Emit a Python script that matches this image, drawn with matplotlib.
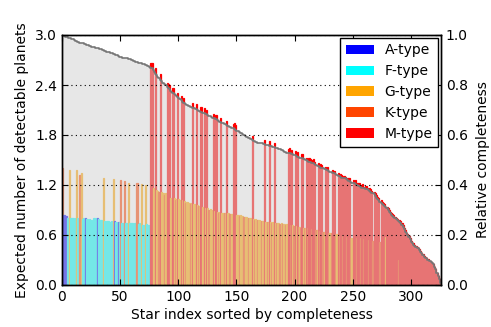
import numpy as np
import matplotlib
matplotlib.use("Agg")
import matplotlib.pyplot as plt
from matplotlib.patches import Patch

# ---- data ----
star_types = (
    "KAAAFFGFFF" "FFGFFKGFFF" "AFFFFFFFFF" "AFFFFGFFFF" "FFFFGAFFAF"
    "KFFKFFFGFF" "FFFFKFFFGF" "FGFFFF"
    "MMGGMGGKMG" "GGKGMMMGGM" "GKGMGGMGMG" "KGGGKGMGGM" "GKGMGGMGMG"
    "KGGGMGMGKG" "MGGKGMGGKG" "GMMMGGKGGG" "KGGGKGGMGK" "GGKGGKGGMG"
    "KGMGKGMGKG" "GKGKGGKGMM" "KMGKMGMKGK" "MGKGMKMMKM" "MMKGMKMMKG"
    "MMMKGKMMMK" "GMKMMKMMKM" "MMKGMMMKMM" "KMMKMMMKMM" "MKMMMMMKMM"
    "MMGMMMMMMM" "MMMKMMMMMM" "MMMMMMMMMM" "MMMMMMMMMM" "MMMMMMMMMM"
)

expected_planets = [
    1.40, 0.84, 0.84, 0.83, 0.81, 0.80, 1.38, 0.80, 0.81, 0.80,
    0.79, 0.80, 1.38, 0.80, 0.79, 1.32, 1.35, 0.79, 0.80, 0.79,
    0.80, 0.79, 0.78, 0.79, 0.78, 0.78, 0.77, 0.80, 0.79, 0.80,
    0.80, 0.79, 0.77, 0.78, 0.77, 1.28, 0.77, 0.76, 0.77, 0.77,
    0.76, 0.76, 0.77, 0.76, 1.27, 0.77, 0.76, 0.75, 0.76, 0.76,
    1.26, 0.75, 0.75, 1.25, 0.75, 0.74, 0.75, 1.23, 0.74, 0.75,
    0.74, 0.73, 0.74, 0.75, 1.22, 0.73, 0.74, 0.73, 1.21, 0.72,
    0.72, 1.20, 0.73, 0.72, 0.72, 0.71,
    2.66, 2.67, 1.17, 1.15, 2.60, 1.14, 1.13, 1.12, 2.53, 1.12,
    1.11, 1.11, 1.08, 1.10, 2.43, 2.41, 2.40, 1.05, 1.04, 2.36,
    1.04, 1.02, 1.03, 2.31, 1.03, 1.02, 2.27, 1.02, 2.25, 1.01,
    0.99, 1.00, 0.99, 0.99, 0.97, 0.98, 2.19, 0.97, 0.97, 2.17,
    0.96, 0.95, 0.95, 2.14, 0.94, 0.93, 2.12, 0.92, 2.10, 0.92,
    0.90, 0.91, 0.90, 0.89, 2.05, 0.89, 2.04, 0.88, 0.87, 0.88,
    2.01, 0.87, 0.87, 0.86, 0.87, 1.97, 0.86, 0.86, 0.85, 0.85,
    0.85, 1.93, 1.94, 1.92, 0.84, 0.84, 0.83, 0.84, 0.83, 0.83,
    0.82, 0.82, 0.82, 0.81, 0.80, 0.80, 0.80, 1.79, 0.79, 0.78,
    0.79, 0.78, 0.78, 0.78, 0.77, 0.77, 0.77, 0.77, 1.74, 0.76,
    0.76, 0.76, 1.73, 0.76, 0.75, 0.76, 1.71, 0.75, 0.75, 0.74,
    0.74, 0.73, 0.74, 0.73, 0.73, 0.73, 0.72, 0.73, 1.63, 1.64,
    0.72, 1.62, 0.72, 0.71, 1.61, 0.71, 1.60, 0.70, 0.70, 0.69,
    1.57, 0.69, 0.69, 0.68, 1.53, 0.68, 1.53, 1.51, 0.67, 1.50,
    1.51, 1.48, 0.66, 0.66, 1.46, 0.65, 1.45, 1.44, 0.64, 0.64,
    1.42, 1.41, 1.42, 0.63, 0.62, 0.62, 1.38, 1.37, 1.37, 0.61,
    0.61, 1.34, 0.60, 1.33, 1.32, 0.59, 1.31, 1.30, 0.58, 1.29,
    1.28, 1.29, 0.57, 0.57, 1.26, 1.25, 1.26, 0.56, 1.23, 1.22,
    0.56, 1.20, 1.21, 0.55, 1.18, 1.19, 1.17, 0.54, 1.16, 1.15,
    1.13, 0.53, 1.12, 1.10, 1.08, 1.06, 1.05, 0.52, 1.02, 1.00,
    0.99, 0.97, 0.58, 0.94, 0.92, 0.90, 0.88, 0.86, 0.85, 0.84,
    0.82, 0.81, 0.79, 0.30, 0.78, 0.77, 0.74, 0.72, 0.69, 0.66,
    0.63, 0.61, 0.59, 0.56, 0.53, 0.51, 0.50, 0.48, 0.47, 0.46,
    0.45, 0.43, 0.41, 0.39, 0.37, 0.35, 0.34, 0.33, 0.31, 0.31,
    0.29, 0.28, 0.27, 0.25, 0.22, 0.19, 0.15, 0.11, 0.07, 0.03,
]

completeness_curve = [
    3.00, 3.00, 2.99, 2.98, 2.98, 2.97, 2.97, 2.96, 2.95, 2.95,
    2.94, 2.93, 2.93, 2.92, 2.92, 2.91, 2.91, 2.90, 2.90, 2.89,
    2.89, 2.88, 2.88, 2.87, 2.87, 2.86, 2.86, 2.86, 2.85, 2.85,
    2.84, 2.84, 2.83, 2.83, 2.82, 2.82, 2.81, 2.81, 2.80, 2.80,
    2.80, 2.79, 2.78, 2.78, 2.77, 2.77, 2.76, 2.76, 2.75, 2.74,
    2.74, 2.74, 2.73, 2.73, 2.72, 2.72, 2.72, 2.71, 2.71, 2.70,
    2.70, 2.69, 2.69, 2.68, 2.68, 2.67, 2.67, 2.66, 2.66, 2.65,
    2.65, 2.64, 2.64, 2.63, 2.63, 2.62, 2.61, 2.60, 2.58, 2.56,
    2.53, 2.52, 2.50, 2.48, 2.46, 2.45, 2.43, 2.42, 2.41, 2.40,
    2.38, 2.36, 2.35, 2.33, 2.32, 2.31, 2.29, 2.28, 2.27, 2.26,
    2.24, 2.23, 2.22, 2.20, 2.19, 2.18, 2.17, 2.16, 2.15, 2.15,
    2.14, 2.14, 2.13, 2.12, 2.11, 2.11, 2.10, 2.09, 2.09, 2.08,
    2.07, 2.07, 2.06, 2.05, 2.05, 2.04, 2.03, 2.03, 2.02, 2.01,
    2.00, 2.00, 1.99, 1.98, 1.97, 1.96, 1.96, 1.95, 1.94, 1.93,
    1.93, 1.92, 1.91, 1.91, 1.90, 1.89, 1.88, 1.88, 1.87, 1.86,
    1.85, 1.85, 1.84, 1.83, 1.82, 1.81, 1.80, 1.79, 1.78, 1.78,
    1.77, 1.76, 1.75, 1.74, 1.73, 1.73, 1.72, 1.72, 1.71, 1.71,
    1.70, 1.70, 1.70, 1.69, 1.69, 1.68, 1.68, 1.68, 1.67, 1.67,
    1.67, 1.66, 1.66, 1.65, 1.65, 1.64, 1.63, 1.63, 1.62, 1.62,
    1.61, 1.60, 1.60, 1.59, 1.59, 1.58, 1.58, 1.57, 1.57, 1.56,
    1.56, 1.55, 1.54, 1.54, 1.53, 1.53, 1.52, 1.51, 1.51, 1.50,
    1.50, 1.49, 1.48, 1.48, 1.47, 1.46, 1.46, 1.45, 1.44, 1.43,
    1.43, 1.42, 1.41, 1.41, 1.40, 1.39, 1.39, 1.38, 1.38, 1.37,
    1.36, 1.36, 1.35, 1.34, 1.34, 1.33, 1.32, 1.31, 1.31, 1.30,
    1.29, 1.29, 1.28, 1.28, 1.27, 1.26, 1.25, 1.25, 1.24, 1.23,
    1.23, 1.22, 1.21, 1.20, 1.20, 1.19, 1.18, 1.17, 1.17, 1.16,
    1.16, 1.15, 1.15, 1.14, 1.13, 1.12, 1.11, 1.10, 1.09, 1.07,
    1.05, 1.03, 1.02, 1.00, 0.99, 0.97, 0.96, 0.95, 0.94, 0.92,
    0.90, 0.88, 0.86, 0.84, 0.83, 0.82, 0.80, 0.79, 0.78, 0.77,
    0.76, 0.75, 0.72, 0.70, 0.67, 0.64, 0.62, 0.60, 0.58, 0.55,
    0.52, 0.50, 0.48, 0.47, 0.46, 0.45, 0.44, 0.42, 0.40, 0.38,
    0.36, 0.34, 0.33, 0.32, 0.30, 0.30, 0.29, 0.28, 0.27, 0.25,
    0.22, 0.19, 0.15, 0.11, 0.07, 0.03,
]

type_codes = ["A", "F", "G", "K", "M"]
type_labels = ["A-type", "F-type", "G-type", "K-type", "M-type"]
type_colors = ["blue", "cyan", "orange", "orangered", "red"]

left_ticks = [0.0, 0.6, 1.2, 1.8, 2.4, 3.0]
right_ticks = [0.0, 0.2, 0.4, 0.6, 0.8, 1.0]
x_ticks = [0, 50, 100, 150, 200, 250, 300]

# ---- plot ----
plt.rcParams["font.family"] = ["DejaVu Sans"]
plt.rcParams["font.size"] = 10

fig = plt.figure(figsize=(4.91, 3.27), dpi=100)
ax = fig.add_axes([62 / 491, 42 / 327, 379 / 491, 250 / 327])

n = len(completeness_curve)
idx = np.arange(n)
cmap = dict(zip(type_codes, type_colors))
bar_colors = [cmap[t] for t in star_types[:n]]
ax.bar(idx, expected_planets[:n], width=1.0, align="edge",
       color=bar_colors, edgecolor=bar_colors, linewidth=0.9, zorder=1)

xs = np.arange(n + 1)
ys = np.append(completeness_curve, completeness_curve[-1])
ax.fill_between(xs, 0, ys, step="post", facecolor="#d4d4d4",
                alpha=0.55, linewidth=0, zorder=1.5)
ax.plot(xs, ys, drawstyle="steps-post", color="#777777", lw=1.2, zorder=2)

ax.set_xlim(0, n)
ax.set_ylim(0, 3.0)
ax.set_yticks(left_ticks)
ax.set_yticklabels([f"{v:.1f}" for v in left_ticks])
ax.set_xticks(x_ticks)
ax.set_axisbelow(False)
ax.yaxis.grid(True, linestyle=(0, (1, 3)), color="black", linewidth=0.8)
ax.tick_params(direction="in", length=4, top=True, right=False)
ax.set_xlabel("Star index sorted by completeness", labelpad=3)
ax.set_ylabel("Expected number of detectable planets", labelpad=4)

ax2 = ax.twinx()
ax2.set_ylim(0, 1.0)
ax2.set_yticks(right_ticks)
ax2.set_yticklabels([f"{v:.1f}" for v in right_ticks])
ax2.tick_params(direction="in", length=4)
ax2.set_ylabel("Relative completeness", labelpad=6)

handles = [Patch(facecolor=c, edgecolor="none", label=l)
           for c, l in zip(type_colors, type_labels)]
leg = ax2.legend(handles=handles, loc="upper right", fancybox=False,
                 framealpha=1, edgecolor="black", fontsize=10,
                 borderaxespad=0.2, handlelength=2.0, labelspacing=0.5)
leg.get_frame().set_linewidth(1.0)

for a in (ax, ax2):
    for s in a.spines.values():
        s.set_linewidth(1.0)

fig.savefig("out.png", dpi=100)
